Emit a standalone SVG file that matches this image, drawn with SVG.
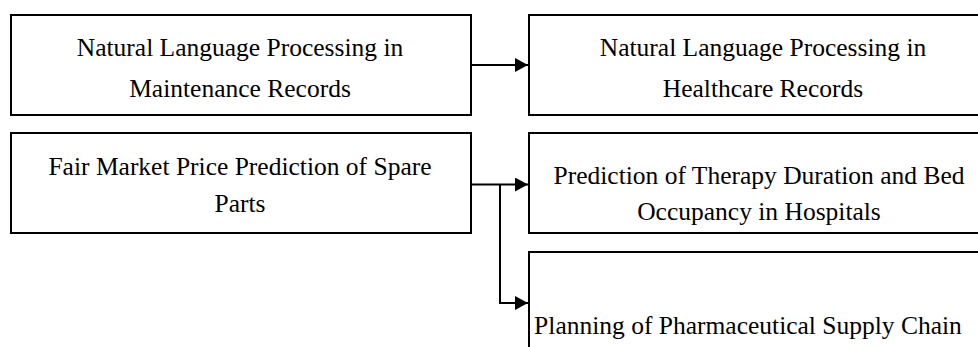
<svg xmlns="http://www.w3.org/2000/svg" width="978" height="347" viewBox="0 0 978 347">
  <defs>
    <marker id="arrow" viewBox="0 0 13 14" refX="13" refY="7" markerWidth="13" markerHeight="14" markerUnits="userSpaceOnUse" orient="auto">
      <path d="M0,0 L13,7 L0,14 Z" fill="#000"/>
    </marker>
  </defs>
  <style>
    .box { fill: #fff; stroke: #000; stroke-width: 2; }
    .label { font-family: "Liberation Serif", "Times New Roman", serif; font-size: 25.5px; fill: #000; text-anchor: middle; }
    .link { fill: none; stroke: #000; stroke-width: 2; }
  </style>
  <rect width="978" height="347" fill="#fff"/>

  <g id="nlp-maintenance">
    <rect class="box" x="11" y="15" width="460" height="100"/>
    <text class="label" x="240" y="56">Natural Language Processing in</text>
    <text class="label" x="240" y="97">Maintenance Records</text>
  </g>

  <g id="nlp-healthcare">
    <rect class="box" x="529" y="15" width="468" height="100"/>
    <text class="label" x="763" y="56">Natural Language Processing in</text>
    <text class="label" x="763" y="97">Healthcare Records</text>
  </g>

  <g id="price-prediction">
    <rect class="box" x="11" y="133" width="460" height="100"/>
    <text class="label" x="240" y="175">Fair Market Price Prediction of Spare</text>
    <text class="label" x="240" y="212">Parts</text>
  </g>

  <g id="therapy-prediction">
    <rect class="box" x="529" y="133" width="468" height="100"/>
    <text class="label" x="759" y="184">Prediction of Therapy Duration and Bed</text>
    <text class="label" x="759" y="220">Occupancy in Hospitals</text>
  </g>

  <g id="supply-chain">
    <rect class="box" x="529" y="252" width="468" height="120"/>
    <text class="label" x="748" y="334">Planning of Pharmaceutical Supply Chain</text>
  </g>

  <g id="connectors">
    <path class="link" d="M471,65 H528" marker-end="url(#arrow)"/>
    <path class="link" d="M471,184.5 H528" marker-end="url(#arrow)"/>
    <path class="link" d="M500,184.5 V303 H528" marker-end="url(#arrow)"/>
  </g>
</svg>
